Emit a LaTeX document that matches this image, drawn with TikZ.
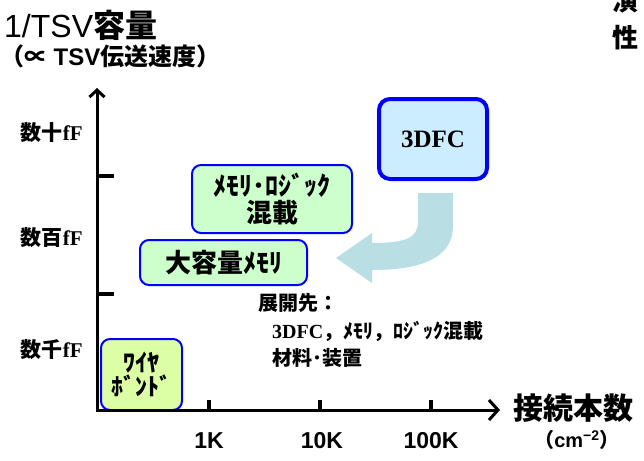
\documentclass[tikz,border=0pt]{standalone}
\usepackage{fontspec}
\usetikzlibrary{arrows.meta}
\newfontfamily\jp{Noto Sans CJK JP}
\newfontfamily\ar{Liberation Sans}
\newfontfamily\tm{Liberation Serif}
\newcommand\fs[1]{\fontsize{#1pt}{#1pt}\selectfont}
\definecolor{bblue}{RGB}{0,0,255}
\definecolor{grn}{RGB}{204,255,204}
\definecolor{ygrn}{RGB}{220,255,165}
\definecolor{lblue}{RGB}{204,236,255}
\definecolor{arrc}{RGB}{185,223,228}
\tikzset{
  box/.style={draw=bblue, line width=2pt, rounded corners=9pt, inner sep=0pt, align=center},
  axisline/.style={line width=3pt, black},
  tick/.style={line width=4pt, black},
  lab/.style={inner sep=0pt},
}
\begin{document}
\begin{tikzpicture}[x=1pt,y=-1pt]
\clip (0,0) rectangle (644,460);
\fill[white] (0,0) rectangle (644,460);

% title
\node[lab, anchor=west] (t1) at (4,25) {\fs{32}\ar 1/TSV{\jp\bfseries 容量}};
\node[lab, anchor=west] (t2) at (0,56) {\fs{24}\jp\bfseries （∝ {\ar\bfseries TSV}伝送速度）};

% top-right cut-off text
\node[lab] (c1) at (625,1) {\fs{26}\jp\bfseries 演};
\node[lab] (c2) at (625,38) {\fs{26}\jp\bfseries 性};

% y labels
\node[lab, anchor=east] (y1) at (83,133) {\fs{21}{\jp\bfseries 数十}{\tm\bfseries fF}};
\node[lab, anchor=east] (y2) at (83,238) {\fs{21}{\jp\bfseries 数百}{\tm\bfseries fF}};
\node[lab, anchor=east] (y3) at (83,350) {\fs{21}{\jp\bfseries 数千}{\tm\bfseries fF}};

% boxes
\node[box, fill=ygrn, minimum width=81, minimum height=71] (wire) at (141.5,374.5)
  {\fs{24}\jp\bfseries ﾜｲﾔ\\[1pt]\fs{24}\jp\bfseries ﾎﾞﾝﾄﾞ};
\node[box, fill=grn, minimum width=167, minimum height=45] (mem) at (223.5,262.5)
  {\fs{26}\jp\bfseries 大容量ﾒﾓﾘ};
\node[box, fill=grn, minimum width=160, minimum height=68] (mix) at (272,199)
  {\fs{26}\jp\bfseries ﾒﾓﾘ･ﾛｼﾞｯｸ\\[2pt]\fs{26}\jp\bfseries 混載};
\node[box, fill=lblue, line width=4pt, rounded corners=11pt, minimum width=108, minimum height=80] (dfc) at (433,139)
  {\fs{25}\tm\bfseries 3DFC};

% curved arrow
\fill[arrc] (418,193) -- (453,193) -- (453,226) .. controls (453,256) and (425,270) .. (372,270)
  -- (372,283) -- (336,258) -- (372,233) -- (372,243)
  .. controls (405,243) and (418,238) .. (418,222) -- cycle;

% lower text
\node[lab, anchor=west] (d1) at (258,303) {\fs{20}\jp\bfseries 展開先：};
\node[lab, anchor=west] (d2) at (272,331) {\fs{20}{\tm\bfseries 3DFC}{\jp\bfseries ，ﾒﾓﾘ，ﾛｼﾞｯｸ混載}};
\node[lab, anchor=west] (d3) at (272,358) {\fs{20}\jp\bfseries 材料･装置};

% axes
\coordinate (o) at (97,410);
\coordinate (ytop) at (97,88);
\coordinate (xend) at (500,410);
\draw[axisline, -{Straight Barb[length=7pt,width=15pt,line width=3pt]}] ([yshift=1.5pt]o) -- (ytop);
\draw[axisline, -{Straight Barb[length=9pt,width=20pt,line width=3pt]}] ([xshift=-1.5pt]o) -- (xend);
\coordinate (yt1) at (97,176); \coordinate (yt1e) at (114,176);
\coordinate (yt2) at (97,294); \coordinate (yt2e) at (114,294);
\draw[tick] (yt1) -- (yt1e);
\draw[tick] (yt2) -- (yt2e);
\coordinate (xt1) at (209,410); \coordinate (xt1e) at (209,400);
\coordinate (xt2) at (320,410); \coordinate (xt2e) at (320,400);
\coordinate (xt3) at (431,410); \coordinate (xt3e) at (431,400);
\draw[tick] (xt1) -- (xt1e);
\draw[tick] (xt2) -- (xt2e);
\draw[tick] (xt3) -- (xt3e);

% x labels
\node[lab] (x1) at (209,441) {\fs{23}\ar\bfseries 1K};
\node[lab] (x2) at (322,441) {\fs{23}\ar\bfseries 10K};
\node[lab] (x3) at (431,441) {\fs{23}\ar\bfseries 100K};
\node[lab, anchor=west] (xl) at (513,408) {\fs{30}\jp\bfseries 接続本数};
\node[lab] (xu) at (577,440) {\fs{20}{\jp\bfseries （}{\ar\bfseries cm\textsuperscript{−2}}{\jp\bfseries ）}};
\end{tikzpicture}
\end{document}
